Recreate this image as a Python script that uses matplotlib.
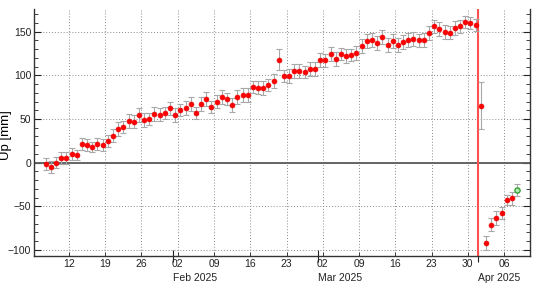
#
# GNSS daily "Up" component, Jan - Apr 2025
#

import numpy as np
import pandas as pd
import matplotlib
matplotlib.use('Agg')
import matplotlib.pyplot as plt
import matplotlib.dates as mdates
from matplotlib.ticker import MultipleLocator

plt.rcParams['font.family'] = ['Liberation Sans', 'DejaVu Sans']

# daily solutions (noon), Jan 07 .. Mar 31
start_1 = '2025-01-07 12:00'
up_1 = [-2, -5, 0, 5, 5, 10, 9, 21, 20, 18, 21, 20, 25, 31, 38, 41, 48, 47, 54, 49,
        50, 56, 55, 57, 62,                                   # Jan
        55, 60, 63, 67, 57, 67, 73, 64, 70, 75, 73, 66, 75, 78, 78, 87, 86, 86, 89,
        93, 118, 99, 99, 105, 105, 104, 107, 107,             # Feb
        118, 117, 124, 119, 124, 122, 123, 126, 134, 139, 140, 137, 144, 135, 139,
        135, 138, 141, 142, 140, 141, 148, 156, 153, 150, 149, 154, 156, 161, 160,
        158]                                                  # Mar
err_1 = [7, 7, 6, 7, 7, 7, 6, 7, 7, 6, 7, 7, 7, 7, 8, 7, 8, 7, 8, 8,
         7, 8, 7, 7, 8,
         8, 7, 8, 8, 7, 8, 8, 7, 7, 8, 7, 8, 8, 8, 8, 7, 7, 8, 7,
         8, 12, 7, 8, 8, 8, 7, 8, 8,
         8, 7, 8, 8, 7, 8, 7, 8, 8, 8, 8, 8, 8, 8, 8,
         8, 8, 8, 8, 7, 8, 8, 7, 8, 8, 7, 8, 7, 7, 7,
         7]

# after the event (Apr 01 ..)
start_2 = '2025-04-01 12:00'
up_2 = [65, -92, -71, -64, -58, -43, -41]
err_2 = [27, 8, 7, 8, 7, 6, 7]

# latest (rapid) solution
date_3 = '2025-04-08 12:00'
up_3 = [-31]
err_3 = [7]

event_date = '2025-04-01'

d1 = pd.date_range(start_1, periods=len(up_1), freq='D')
d2 = pd.date_range(start_2, periods=len(up_2), freq='D')
d3 = pd.to_datetime([date_3])

fig = plt.figure(figsize=(5.37, 2.83), dpi=100)
ax = fig.add_axes([0.0633, 0.0954, 0.9237, 0.8728])

# zero line + event line
ax.axhline(0, color='#5a5a5a', lw=1.3, zorder=2)
ax.axvline(pd.Timestamp(event_date), color='#ff5050', lw=1.5, zorder=2)

ebkw = dict(fmt='none', ecolor='#a8a8a8', elinewidth=0.8, capsize=2.5,
            capthick=0.8, zorder=3)
ax.errorbar(d1, up_1, yerr=err_1, **ebkw)
ax.errorbar(d2, up_2, yerr=err_2, **ebkw)
ax.errorbar(d3, up_3, yerr=err_3, **ebkw)

ax.plot(d1, up_1, 'o', color='#ff0000', ms=3.5, mec='#ee0000', mew=0.5, ls='none', zorder=4)
ax.plot(d2, up_2, 'o', color='#ff0000', ms=3.5, mec='#ee0000', mew=0.5, ls='none', zorder=4)
ax.plot(d3, up_3, 'o', color='#b0e8b0', ms=3.8, mec='#2a9a2a', mew=0.9, ls='none', zorder=4)

ax.set_xlim(pd.Timestamp('2025-01-05 06:00'), pd.Timestamp('2025-04-11 00:00'))
ax.set_ylim(-107, 176)

# x axis: weekly day numbers + month labels below
ax.xaxis.set_major_locator(mdates.MonthLocator())
ax.xaxis.set_major_formatter(mdates.DateFormatter('%b %Y'))
ax.xaxis.set_minor_locator(mdates.WeekdayLocator(byweekday=mdates.SU))
ax.xaxis.set_minor_formatter(mdates.DateFormatter('%d'))
ax.tick_params(axis='x', which='major', direction='inout', length=8, width=0.8,
               pad=8, labelsize=7.5, colors='#222222')
ax.tick_params(axis='x', which='minor', direction='in', length=3, width=0.6,
               pad=2, labelsize=7.5, colors='#222222')
for lab in ax.get_xticklabels(which='major'):
    lab.set_horizontalalignment('left')

# y axis
ax.yaxis.set_major_locator(MultipleLocator(50))
ax.yaxis.set_minor_locator(MultipleLocator(10))
ax.tick_params(axis='y', which='both', direction='in', right=True, labelsize=7.5,
               colors='#222222', pad=2)
ax.tick_params(axis='y', which='major', length=5, width=0.8)
ax.tick_params(axis='y', which='minor', length=3, width=0.6)
ax.set_ylabel('Up [mm]', fontsize=9.5)
ax.yaxis.set_label_coords(-0.044, 0.49)

ax.grid(True, which='minor', axis='x', color='#8a8a8a', ls=(0, (1, 2)), lw=0.7)
ax.grid(True, which='major', axis='y', color='#8a8a8a', ls=(0, (1, 2)), lw=0.7)
ax.set_axisbelow(True)

for s in ['left', 'right', 'bottom']:
    ax.spines[s].set_color('#333333')
    ax.spines[s].set_linewidth(1.0)
ax.spines['top'].set_visible(False)

plt.savefig('out.png', dpi=100)
